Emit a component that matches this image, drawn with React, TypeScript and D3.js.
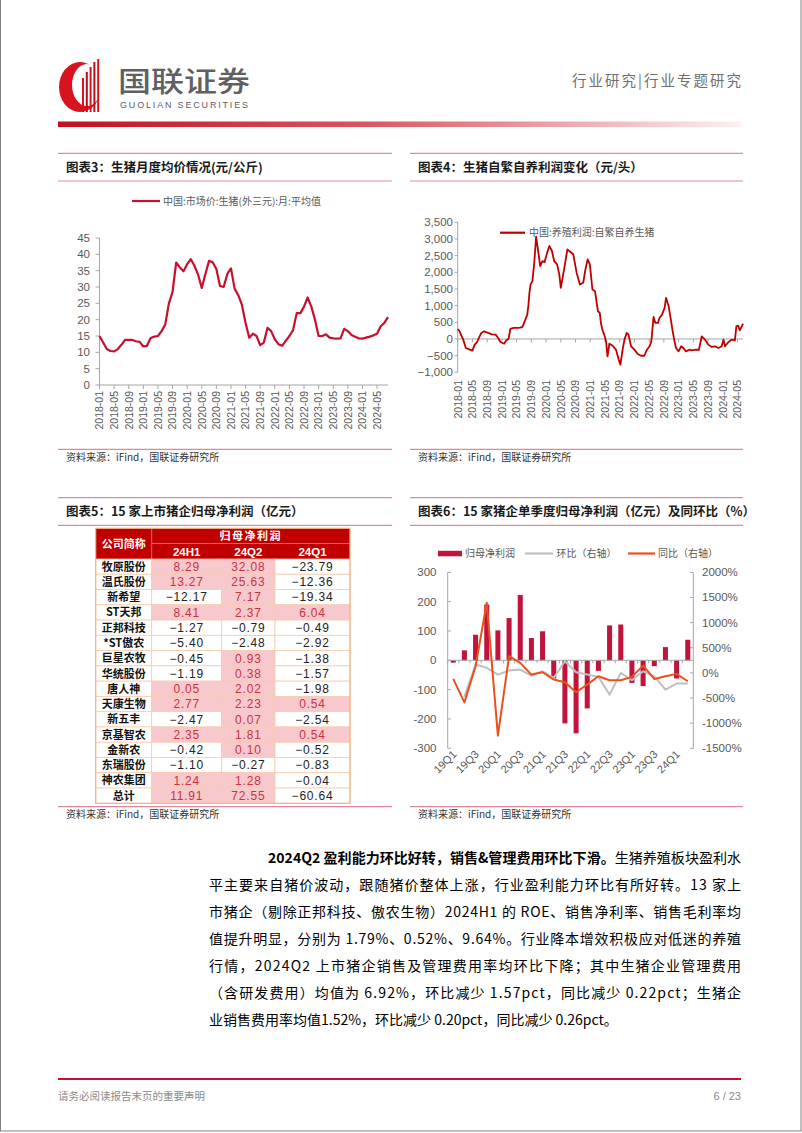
import React from "react";
import * as d3 from "d3";

const CJK = "'Noto Sans CJK SC','Noto Sans',sans-serif";
const LAT = "'Liberation Sans',Arial,sans-serif";

// ---------- 图表3：生猪月度均价（元/公斤），2018-01 起逐月
const priceStart = new Date(2018, 0, 1);
const priceValues = [
  15.0, 13.0, 11.0, 10.4, 10.3, 11.0, 12.3, 13.8, 13.8, 13.8, 13.4, 13.2,
  11.8, 12.0, 14.4, 14.8, 15.0, 16.5, 18.5, 25.0, 28.5, 37.5, 36.0, 34.8,
  37.0, 38.5, 36.5, 33.8, 29.7, 34.0, 38.0, 37.6, 35.5, 30.3, 30.0, 34.0,
  35.7, 29.5, 27.5, 24.5, 19.0, 14.5, 15.7, 15.0, 12.2, 13.0, 17.5, 16.5,
  14.0, 12.5, 12.0, 13.5, 15.0, 16.8, 22.0, 22.0, 24.0, 26.8, 24.0, 20.0,
  15.0, 15.0, 15.5, 14.5, 14.3, 14.2, 14.3, 17.2, 16.5, 15.3, 14.8, 14.3,
  14.2, 14.5, 14.8, 15.2, 15.7, 18.0, 19.0, 20.8,
];
const priceTicks = [0, 5, 10, 15, 20, 25, 30, 35, 40, 45];

// ---------- 图表4：自繁自养生猪养殖利润（元/头），位置=自2018-01起的月数
const profitMonthPos = [
  0, 0.5, 1.5, 2.2, 3.3, 4.0, 4.6, 5.2, 6.4, 7.2, 8.3, 9.3, 10.3, 11.0, 11.6, 12.6, 13.2, 13.8,
  14.3, 15.2, 16.3, 17.0, 17.6, 18.3, 18.9, 19.2, 19.5, 19.8, 20.3, 20.8, 21.3, 21.8, 22.4, 23.0,
  23.6, 24.3, 24.9, 25.6, 26.2, 27.0, 27.6, 28.0, 28.9, 29.8, 30.3, 31.4, 32.3, 33.2, 34.1, 34.7,
  35.3, 35.9, 36.6, 37.3, 37.7, 38.1, 38.6, 38.9, 39.3, 39.8, 40.3, 40.7, 41.2, 42.1, 43.0, 43.9,
  44.2, 44.8, 45.3, 45.9, 46.4, 47.1, 48.0, 48.9, 49.8, 50.7, 51.4, 52.1, 52.6, 53.2, 53.7, 54.4,
  54.8, 55.5, 56.2, 56.6, 57.3, 57.9, 58.4, 58.9, 59.3, 60.0, 60.7, 61.3, 62.0, 62.9, 63.6, 64.7,
  65.5, 66.3, 67.2, 68.1, 69.0, 69.9, 70.8, 71.7, 72.2, 72.6, 73.5, 74.4, 75.3, 75.7, 76.2, 76.6,
  77.1, 77.5,
];
const profitValues = [
  300, 230, -20, -270, -320, -350, -170, -100, 180, 230, 180, 140, 130, 30, -90, -142, -40, 0,
  300, 330, 330, 340, 361, 560, 732, 1000, 1400, 1635, 1735, 2289, 3072, 2690, 2187, 2336,
  2306, 2590, 2790, 2640, 2337, 2237, 1937, 1535, 2086, 2690, 2640, 2540, 1988, 1635, 1685, 2086,
  2388, 2237, 1484, 1434, 1133, 831, 781, 480, 280, 130, -72, -523, -142, -202, -322, -673,
  -773, -322, -20, 180, 130, -220, -320, -452, -503, -503, -322, -220, -72, 660, 480, 480,
  630, 730, 932, 1235, 983, 580, 230, -72, -272, -372, -220, -272, -372, -322, -340, -322,
  -330, 80, -20, -170, -240, -220, -272, -220, -20, -220, -100, -20, -40, 380, 400, 260,
  360, 460,
];
const profitTicks = [-1000, -500, 0, 500, 1000, 1500, 2000, 2500, 3000, 3500];

// ---------- 图表5：15家上市猪企归母净利润（亿元）
const companies = ["牧原股份", "温氏股份", "新希望", "ST天邦", "正邦科技", "*ST傲农", "巨星农牧", "华统股份", "唐人神", "天康生物", "新五丰", "京基智农", "金新农", "东瑞股份", "神农集团", "总计"];
const profit24H1 = [8.29, 13.27, -12.17, 8.41, -1.27, -5.40, -0.45, -1.19, 0.05, 2.77, -2.47, 2.35, -0.42, -1.10, 1.24, 11.91];
const profit24Q2 = [32.08, 25.63, 7.17, 2.37, -0.79, -2.48, 0.93, 0.38, 2.02, 2.23, 0.07, 1.81, 0.10, -0.27, 1.28, 72.55];
const profit24Q1 = [-23.79, -12.36, -19.34, 6.04, -0.49, -2.92, -1.38, -1.57, -1.98, 0.54, -2.54, 0.54, -0.52, -0.83, -0.04, -60.64];
const tablePeriods = ["24H1", "24Q2", "24Q1"];

// ---------- 图表6：单季度归母净利润（亿元）及同环比（%）
const quarters = ["19Q1", "19Q2", "19Q3", "19Q4", "20Q1", "20Q2", "20Q3", "20Q4", "21Q1", "21Q2", "21Q3", "21Q4", "22Q1", "22Q2", "22Q3", "22Q4", "23Q1", "23Q2", "23Q3", "23Q4", "24Q1", "24Q2"];
const quarterNetProfit = [-8, 34, 87, 190, 102, 144, 223, 76, 99, -62, -215, -249, -164, -36, 119, 122, -77, -88, -20, 45, -62, 70];
const quarterQoQ: (number | null)[] = [null, -478, 165, 100, -34, 46, 66, -54, 32, -100, 231, 12, -34, -80, -432, 0, -147, 32, -68, -333, -213, -213];
const quarterYoY = [-120, -586, 131, 1394, -1249, 331, 199, -34, 12, -133, -187, -386, -233, -68, -147, -147, -80, 145, -120, -68, -20, -167];
const leftTicks = [-300, -200, -100, 0, 100, 200, 300];
const rightTicks = [-1500, -1000, -500, 0, 500, 1000, 1500, 2000];

// ---------- 正文
const paraBold = "2024Q2 盈利能力环比好转，销售&管理费用环比下滑。";
const paraFirstRest = "生猪养殖板块盈利水";
const paraLines = [
  "平主要来自猪价波动，跟随猪价整体上涨，行业盈利能力环比有所好转。13 家上",
  "市猪企（剔除正邦科技、傲农生物）2024H1 的 ROE、销售净利率、销售毛利率均",
  "值提升明显，分别为 1.79%、0.52%、9.64%。行业降本增效积极应对低迷的养殖",
  "行情，2024Q2 上市猪企销售及管理费用率均环比下降；其中生猪企业管理费用",
  "（含研发费用）均值为 6.92%，环比减少 1.57pct，同比减少 0.22pct；生猪企",
  "业销售费用率均值1.52%，环比减少 0.20pct，同比减少 0.26pct。",
];

const AXIS = "#A6A6A6";
const LABEL = "#595959";
const PINK_LINE = "#DB8CA2";

function Title({ x0, x1, y, text }: { x0: number; x1: number; y: number; text: string }) {
  return (
    <g>
      <line x1={x0} x2={x1} y1={y} y2={y} stroke={PINK_LINE} strokeWidth={1.2} />
      <line x1={x0} x2={x1} y1={y + 27.7} y2={y + 27.7} stroke={PINK_LINE} strokeWidth={1.2} />
      <text x={x0 + 8} y={y + 18.5} fontFamily={CJK} fontWeight={700} fontSize={12.5} fill="#1a1a1a">{text}</text>
    </g>
  );
}

function Source({ x0, x1, y }: { x0: number; x1: number; y: number }) {
  return (
    <g>
      <line x1={x0} x2={x1} y1={y} y2={y} stroke="#D66A86" strokeWidth={1} />
      <text x={x0 + 8} y={y + 11.5} fontFamily={CJK} fontSize={10} fill="#333">资料来源：iFind，国联证券研究所</text>
    </g>
  );
}

export default function App() {
  // ---- chart 3
  const months = d3.timeMonth.range(priceStart, d3.timeMonth.offset(priceStart, priceValues.length));
  const fmtMonth = d3.timeFormat("%Y-%m");
  const x3 = d3.scaleLinear().domain([0, priceValues.length - 1]).range([99.5, 388]);
  const y3 = d3.scaleLinear().domain([0, 45]).range([385, 238]);
  const line3 = d3.line<number>().x((_, i) => x3(i)).y((d) => y3(d)).curve(d3.curveLinear);
  const tick3 = d3.range(0, priceValues.length, 4);

  // ---- chart 4
  const x4 = d3.scaleLinear().domain([0, 77.5]).range([457.7, 743]);
  const y4 = d3.scaleLinear().domain([-1000, 3500]).range([372.3, 222.3]);
  const line4 = d3.line<number>().x((_, i) => x4(profitMonthPos[i])).y((d) => y4(d));
  const tick4 = d3.range(0, 77, 4);

  // ---- chart 6
  const xb = d3.scaleBand<string>().domain(quarters).range([447.7, 693.3]).paddingInner(0.55).paddingOuter(0.27);
  const yL = d3.scaleLinear().domain([-300, 300]).range([748.3, 572.3]);
  const yR = d3.scaleLinear().domain([-1500, 2000]).range([748.3, 572.3]);
  const cx = (q: string) => (xb(q) as number) + xb.bandwidth() / 2;
  const qoqLine = d3.line<number | null>().defined((d) => d !== null).x((_, i) => cx(quarters[i])).y((d) => yR(d as number));
  const yoyLine = d3.line<number>().x((_, i) => cx(quarters[i])).y((d) => yR(d));
  const step = xb.step();

  // ---- table
  const colX = [95.7, 151.7, 221.7, 275, 350];
  const headTop = 528.3, headMid = 543.5, headBot = 559;
  const rowH = (803.3 - headBot) / companies.length;
  const fmt2 = (v: number) => (v < 0 ? "−" : "") + d3.format(".2f")(Math.abs(v));
  const tableCols = [profit24H1, profit24Q2, profit24Q1];

  const fullWidth = 741 - 209;

  return (
    <svg width={802} height={1133} viewBox="0 0 802 1133" style={{ position: "absolute", left: 0, top: 0, background: "#fff" }}>
      <defs>
        <linearGradient id="hdrGrad" x1="0" x2="1" y1="0" y2="0">
          <stop offset="0" stopColor="#C40E1E" />
          <stop offset="0.45" stopColor="#DA5560" />
          <stop offset="0.8" stopColor="#F0B8BE" />
          <stop offset="1" stopColor="#FDF1F2" />
        </linearGradient>
      </defs>
      <rect x={0.5} y={-2} width={800.5} height={1133} fill="none" stroke="#808080" strokeWidth={1} />

      {/* header */}
      <g>
        <ellipse cx={80} cy={87} rx={21} ry={25} fill="#D7141E" />
        <ellipse cx={87} cy={85} rx={15} ry={21} fill="#fff" />
        {[0, 1, 2, 3, 4].map((i) => (
          <rect key={i} x={82 + i * 3.8} y={[78, 72, 67, 62, 59][i]} width={2} height={112 - [78, 72, 67, 62, 59][i]} fill={i % 2 ? "#B01020" : "#D7141E"} />
        ))}
        <text x={118} y={92} fontFamily={CJK} fontWeight={500} fontSize={28} fill="#606060" textLength={132} lengthAdjust="spacingAndGlyphs">国联证券</text>
        <text x={120} y={108} fontFamily={LAT} fontSize={9} fill="#606060" textLength={128} lengthAdjust="spacing">GUOLIAN SECURITIES</text>
        <text x={572} y={86} fontFamily={CJK} fontSize={14.5} fill="#6f6f6f" textLength={169} lengthAdjust="spacing">行业研究|行业专题研究</text>
        <rect x={58} y={121.5} width={683} height={5.5} fill="url(#hdrGrad)" />
      </g>

      {/* ---------------- 图表3 ---------------- */}
      <Title x0={58} x1={392} y={153.3} text="图表3：生猪月度均价情况(元/公斤)" />
      <line x1={132} x2={160} y1={201} y2={201} stroke="#C8102E" strokeWidth={2.2} />
      <text x={163} y={204.5} fontFamily={CJK} fontSize={10} fill={LABEL}>中国:市场价:生猪(外三元):月:平均值</text>
      <line x1={99.5} x2={99.5} y1={238} y2={385} stroke={AXIS} />
      <line x1={99.5} x2={388} y1={385} y2={385} stroke={AXIS} />
      {priceTicks.map((t) => (
        <g key={t}>
          <line x1={95.5} x2={99.5} y1={y3(t)} y2={y3(t)} stroke={AXIS} />
          <text x={90} y={y3(t) + 4} textAnchor="end" fontFamily={LAT} fontSize={11.5} fill={LABEL}>{t}</text>
        </g>
      ))}
      {tick3.map((i) => (
        <g key={i}>
          <line x1={x3(i)} x2={x3(i)} y1={385} y2={389} stroke={AXIS} />
          <text transform={`translate(${x3(i) + 3.8},391) rotate(-90)`} textAnchor="end" fontFamily={LAT} fontSize={10.5} fill={LABEL}>{fmtMonth(months[i])}</text>
        </g>
      ))}
      <path d={line3(priceValues) || ""} fill="none" stroke="#C8102E" strokeWidth={2.2} strokeLinejoin="round" />
      <Source x0={58} x1={392} y={449.3} />

      {/* ---------------- 图表4 ---------------- */}
      <Title x0={410} x1={743} y={153.3} text="图表4：生猪自繁自养利润变化（元/头）" />
      <line x1={457.7} x2={457.7} y1={222.3} y2={372.3} stroke={AXIS} />
      {profitTicks.map((t) => (
        <g key={t}>
          <line x1={454.5} x2={457.7} y1={y4(t)} y2={y4(t)} stroke={AXIS} />
          <text x={453} y={y4(t) + 4} textAnchor="end" fontFamily={LAT} fontSize={11.5} fill={LABEL}>{d3.format(",")(t)}</text>
        </g>
      ))}
      <line x1={457.7} x2={743} y1={y4(0)} y2={y4(0)} stroke={AXIS} />
      {tick4.map((m) => (
        <g key={m}>
          <line x1={x4(m)} x2={x4(m)} y1={y4(0)} y2={y4(0) + 3.5} stroke={AXIS} />
          <text transform={`translate(${x4(m) + 3.8},380) rotate(-90)`} textAnchor="end" fontFamily={LAT} fontSize={10.5} fill={LABEL}>{fmtMonth(d3.timeMonth.offset(priceStart, m))}</text>
        </g>
      ))}
      <path d={line4(profitValues) || ""} fill="none" stroke="#C00000" strokeWidth={1.8} strokeLinejoin="round" />
      <line x1={500} x2={525} y1={232.7} y2={232.7} stroke="#C00000" strokeWidth={2.2} />
      <text x={529} y={236.3} fontFamily={CJK} fontSize={10} fill={LABEL}>中国:养殖利润:自繁自养生猪</text>
      <Source x0={410} x1={743} y={449.3} />

      {/* ---------------- 图表5 ---------------- */}
      <Title x0={58} x1={392} y={497.7} text="图表5：15 家上市猪企归母净利润（亿元）" />
      <g>
        <rect x={colX[0]} y={headTop} width={colX[4] - colX[0]} height={headBot - headTop} fill="#C00000" />
        <line x1={colX[1]} x2={colX[4]} y1={headMid} y2={headMid} stroke="#E58080" strokeWidth={0.8} />
        <line x1={colX[1]} x2={colX[1]} y1={headTop} y2={headBot} stroke="#E58080" strokeWidth={0.8} />
        <text x={(colX[0] + colX[1]) / 2} y={headMid + 4} textAnchor="middle" fontFamily={CJK} fontWeight={700} fontSize={11} fill="#fff">公司简称</text>
        <text x={(colX[1] + colX[4]) / 2} y={headMid - 3.5} textAnchor="middle" fontFamily={CJK} fontWeight={700} fontSize={11} fill="#fff" letterSpacing={1.5}>归母净利润</text>
        {tablePeriods.map((p, j) => (
          <text key={p} x={(colX[j + 1] + colX[j + 2]) / 2} y={headBot - 3.5} textAnchor="middle" fontFamily={LAT} fontWeight={700} fontSize={11.5} fill="#fff">{p}</text>
        ))}
        {companies.map((c, i) => {
          const y0 = headBot + i * rowH;
          return (
            <g key={c}>
              <rect x={colX[0]} y={y0} width={colX[1] - colX[0]} height={rowH} fill="#fff" stroke="#F8CBAD" strokeWidth={0.8} />
              <text x={(colX[0] + colX[1]) / 2} y={y0 + rowH / 2 + 4} textAnchor="middle" fontFamily={CJK} fontWeight={700} fontSize={11} fill="#111">{c}</text>
              {tableCols.map((col, j) => {
                const v = col[i];
                const pos = v > 0;
                return (
                  <g key={j}>
                    <rect x={colX[j + 1]} y={y0} width={colX[j + 2] - colX[j + 1]} height={rowH} fill={pos ? "#F7C9CC" : "#fff"} stroke="#F8CBAD" strokeWidth={0.8} />
                    <text x={(colX[j + 1] + colX[j + 2]) / 2} y={y0 + rowH / 2 + 4.3} textAnchor="middle" fontFamily={LAT} fontSize={12} fill={pos ? "#C8333F" : "#222"} letterSpacing={0.8}>{fmt2(v)}</text>
                  </g>
                );
              })}
            </g>
          );
        })}
        <rect x={colX[0]} y={headTop} width={colX[4] - colX[0]} height={803.3 - headTop} fill="none" stroke="#F4B183" strokeWidth={1.2} />
      </g>
      <Source x0={58} x1={392} y={806.7} />

      {/* ---------------- 图表6 ---------------- */}
      <Title x0={410} x1={743} y={497.7} text="图表6：15 家猪企单季度归母净利润（亿元）及同环比（%）" />
      <rect x={438} y={550.8} width={24} height={5.5} fill="#C0143C" />
      <text x={465} y={557} fontFamily={CJK} fontSize={10} fill={LABEL}>归母净利润</text>
      <line x1={525} x2={553} y1={553.5} y2={553.5} stroke="#BFBFBF" strokeWidth={2.2} />
      <text x={556.5} y={557} fontFamily={CJK} fontSize={10} fill={LABEL}>环比（右轴）</text>
      <line x1={628} x2={655} y1={553.5} y2={553.5} stroke="#E8501E" strokeWidth={2.2} />
      <text x={658} y={557} fontFamily={CJK} fontSize={10} fill={LABEL}>同比（右轴）</text>

      <line x1={447.7} x2={447.7} y1={572.3} y2={748.3} stroke={AXIS} />
      <line x1={693.3} x2={693.3} y1={572.3} y2={748.3} stroke={AXIS} />
      {leftTicks.map((t) => (
        <g key={t}>
          <line x1={447.7} x2={451} y1={yL(t)} y2={yL(t)} stroke={AXIS} />
          <text x={436.5} y={yL(t) + 4} textAnchor="end" fontFamily={LAT} fontSize={11.5} fill={LABEL}>{t}</text>
        </g>
      ))}
      {rightTicks.map((t) => (
        <g key={t}>
          <line x1={690} x2={693.3} y1={yR(t)} y2={yR(t)} stroke={AXIS} />
          <text x={702} y={yR(t) + 4} fontFamily={LAT} fontSize={11.5} fill={LABEL}>{t}%</text>
        </g>
      ))}
      {quarterNetProfit.map((v, i) => (
        <rect key={quarters[i]} x={xb(quarters[i])} y={Math.min(yL(v), yL(0))} width={xb.bandwidth()} height={Math.abs(yL(v) - yL(0))} fill="#C0143C" />
      ))}
      <line x1={447.7} x2={693.3} y1={yL(0)} y2={yL(0)} stroke={AXIS} />
      {quarters.map((q, i) => (
        <line key={q} x1={447.7 + step * i} x2={447.7 + step * i} y1={yL(0)} y2={yL(0) + 3} stroke={AXIS} />
      ))}
      <path d={qoqLine(quarterQoQ) || ""} fill="none" stroke="#BFBFBF" strokeWidth={2} strokeLinejoin="round" />
      <path d={yoyLine(quarterYoY) || ""} fill="none" stroke="#E8501E" strokeWidth={2} strokeLinejoin="round" />
      {quarters.filter((_, i) => i % 2 === 0).map((q) => (
        <text key={q} transform={`translate(${cx(q) + 4},755) rotate(-45)`} textAnchor="end" fontFamily={LAT} fontSize={11} fill={LABEL}>{q}</text>
      ))}
      <Source x0={410} x1={743} y={806.7} />

      {/* ---------------- 正文 ---------------- */}
      <text x={268} y={863} fontFamily={CJK} fontSize={14} fill="#000" textLength={741 - 268} lengthAdjust="spacing">
        <tspan fontWeight={700}>{paraBold}</tspan>
        <tspan>{paraFirstRest}</tspan>
      </text>
      {paraLines.map((l, i) => (
        <text key={i} x={209} y={890 + i * 27} fontFamily={CJK} fontSize={14} fill="#000"
          {...(i < paraLines.length - 1 ? { textLength: fullWidth, lengthAdjust: "spacing" } : {})}>{l}</text>
      ))}

      {/* footer */}
      <line x1={58} x2={741} y1={1079} y2={1079} stroke="#C8102E" strokeWidth={2} />
      <text x={58} y={1100} fontFamily={CJK} fontSize={10.5} fill="#8a8a8a">请务必阅读报告末页的重要声明</text>
      <text x={741} y={1100} textAnchor="end" fontFamily={LAT} fontSize={11} fill="#8a8a8a">6 / 23</text>
    </svg>
  );
}
